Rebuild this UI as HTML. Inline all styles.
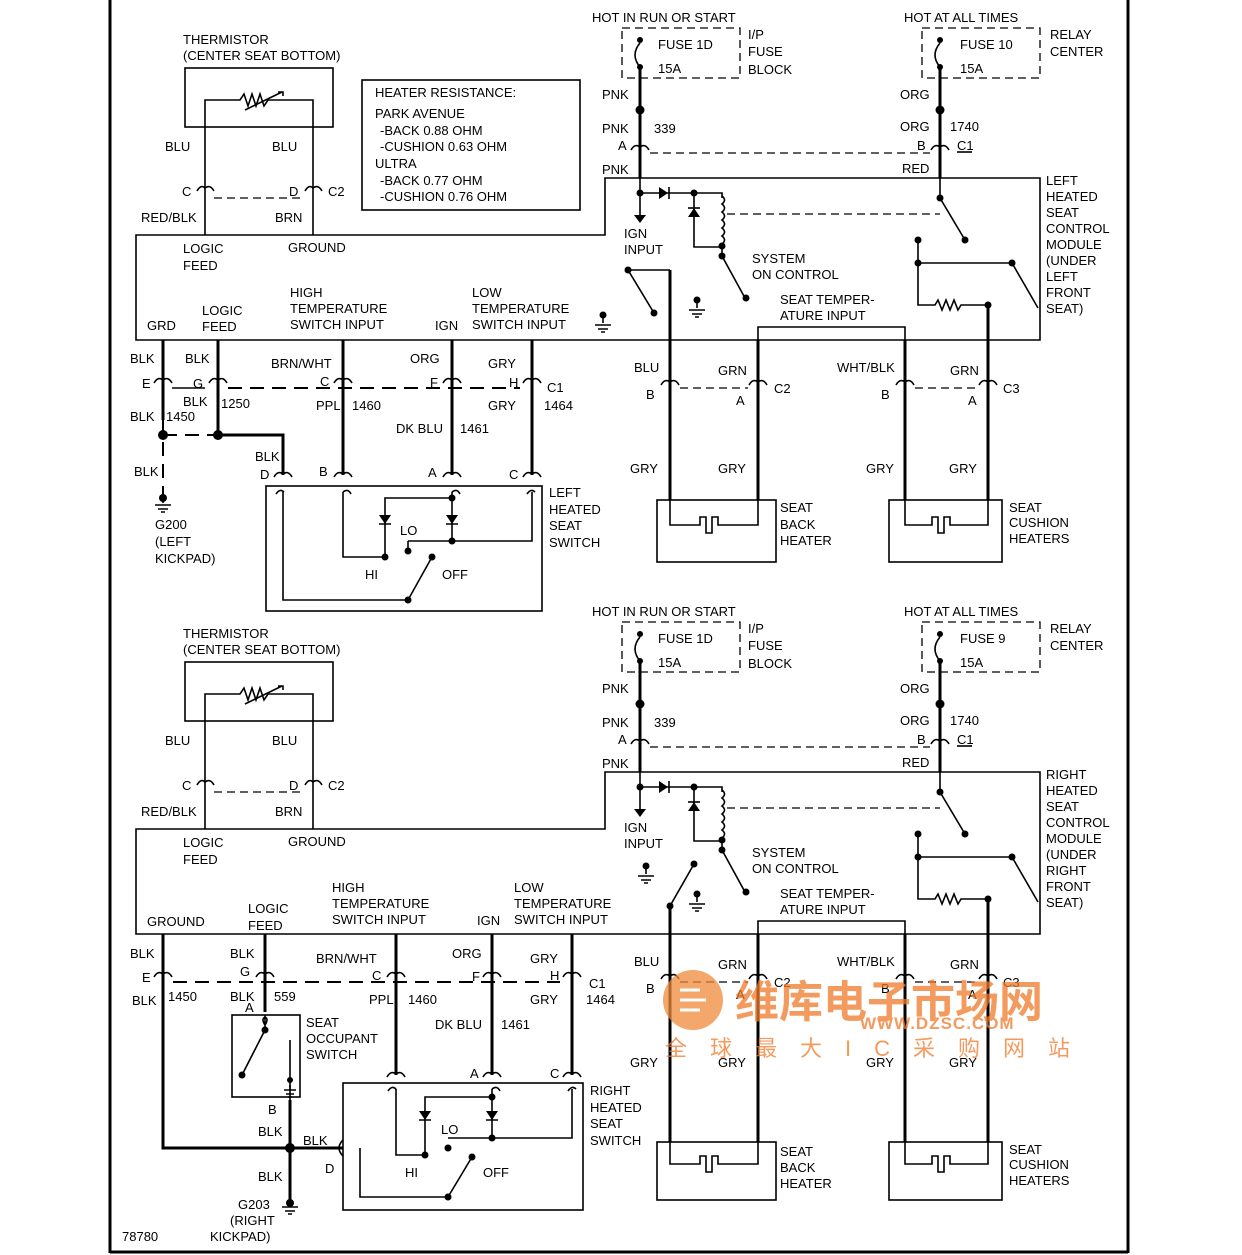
<!DOCTYPE html>
<html><head><meta charset="utf-8"><style>
html,body{margin:0;padding:0;background:#fff}
svg{display:block}
text{font-family:"Liberation Sans","Noto Sans CJK SC",sans-serif;font-size:13px;fill:#000}
.w{stroke:#000;stroke-width:3;fill:none}
.t{stroke:#000;stroke-width:1.6;fill:none}
.d{stroke:#000;stroke-width:2;fill:none;stroke-dasharray:14 8}
.dt{stroke:#000;stroke-width:1.3;fill:none;stroke-dasharray:8 5}
.dot{fill:#000}
</style></head><body>
<svg width="1242" height="1255" viewBox="0 0 1242 1255" xmlns="http://www.w3.org/2000/svg">
<rect x="0" y="0" width="1242" height="1255" fill="#fff"/>
<line x1="110" y1="0" x2="110" y2="1253" stroke="#000" stroke-width="3"/>
<line x1="1128" y1="0" x2="1128" y2="1253" stroke="#000" stroke-width="3"/>
<line x1="110" y1="1252" x2="1128" y2="1252" stroke="#000" stroke-width="3"/>

<g id="top">
<text x="183" y="44">THERMISTOR</text><text x="183" y="60">(CENTER SEAT BOTTOM)</text>
<rect x="185" y="68" width="148" height="59" class="t"/>
<path class="t" d="M205 235 V100 H240 l4 -6 4 12 4 -12 4 12 4 -12 4 12 4 -6 H313 V235"/>
<path class="t" d="M245 110 L282 92 M278 92 h5 v4"/>
<text x="165" y="151">BLU</text><text x="272" y="151">BLU</text>
<text x="182" y="196">C</text><text x="289" y="196">D</text><text x="328" y="196">C2</text>
<path class="t" d="M197 191 q4 -7 8 -3 M205 188 q5 -4 9 3 M305 191 q4 -7 8 -3 M313 188 q5 -4 9 3"/>
<line x1="214" y1="198" x2="305" y2="198" class="dt"/>
<text x="141" y="222">RED/BLK</text><text x="275" y="222">BRN</text>
<text x="183" y="253">LOGIC</text><text x="183" y="270">FEED</text><text x="288" y="252">GROUND</text>
<text x="592" y="22">HOT IN RUN OR START</text>
<rect x="622" y="28" width="118" height="50" class="dt"/>
<path class="t" d="M640 43 Q630 55 640 67"/><circle cx="640" cy="40" r="3" class="dot"/><circle cx="640" cy="67" r="3" class="dot"/>
<text x="658" y="49">FUSE 1D</text><text x="658" y="73">15A</text>
<text x="748" y="39">I/P</text><text x="748" y="56">FUSE</text><text x="748" y="74">BLOCK</text>
<text x="904" y="22">HOT AT ALL TIMES</text>
<rect x="922" y="28" width="118" height="50" class="dt"/>
<path class="t" d="M940 43 Q930 55 940 67"/><circle cx="940" cy="40" r="3" class="dot"/><circle cx="940" cy="67" r="3" class="dot"/>
<text x="960" y="73">15A</text>
<text x="1050" y="39">RELAY</text><text x="1050" y="56">CENTER</text>
<path class="w" d="M640 67 V178 M940 67 V178"/>
<circle cx="640" cy="110" r="4.5" class="dot"/><circle cx="940" cy="110" r="4.5" class="dot"/>
<text x="602" y="99">PNK</text><text x="900" y="99">ORG</text>
<text x="602" y="133">PNK</text><text x="654" y="133">339</text>
<text x="900" y="131">ORG</text><text x="950" y="131">1740</text>
<text x="618" y="150">A</text><text x="917" y="150">B</text><text x="957" y="150">C1</text>
<line x1="957" y1="152" x2="972" y2="152" class="t"/>
<path class="t" d="M631 150 q4 -7 9 -3 M640 147 q5 -4 9 3 M931 150 q4 -7 9 -3 M940 147 q5 -4 9 3"/>
<line x1="650" y1="153" x2="930" y2="153" class="dt"/>
<text x="602" y="174">PNK</text><text x="902" y="173">RED</text>
<path class="t" d="M136 235 H605 V178 H1040 V340 H136 Z"/>
<path class="t" d="M640 178 V215 M640 193 H722 V198"/>
<path d="M634 215 h12 l-6 8z" class="dot"/>
<path d="M659 187 v12 l9 -6z" class="dot"/><line x1="669" y1="187" x2="669" y2="199" class="t"/>
<circle cx="640" cy="193" r="3.5" class="dot"/><circle cx="694" cy="193" r="3.5" class="dot"/>
<path class="t" d="M694 193 V247 H722"/>
<path d="M688 217 h12 l-6 -9z" class="dot"/><line x1="688" y1="208" x2="700" y2="208" class="t"/>
<path class="t" d="M722 196 q5 4 0 8 q5 4 0 8 q5 4 0 8 q5 4 0 8 q5 4 0 8 q5 4 0 8 V256 L745 298"/>
<circle cx="722" cy="246" r="3.5" class="dot"/><circle cx="722" cy="256" r="3.5" class="dot"/><circle cx="746" cy="298" r="3.5" class="dot"/>
<line x1="727" y1="214" x2="940" y2="214" class="dt"/>
<path class="t" d="M940 178 V198 L965 240"/><circle cx="940" cy="198" r="3.5" class="dot"/><circle cx="965" cy="240" r="3.5" class="dot"/>
<path class="t" d="M918 240 V305 H935 l3 -5 4 10 4 -10 4 10 4 -10 4 10 3 -5 H988 M918 263 H1012 L1038 308"/>
<circle cx="918" cy="240" r="3.5" class="dot"/><circle cx="918" cy="263" r="3.5" class="dot"/><circle cx="1012" cy="263" r="3.5" class="dot"/><circle cx="988" cy="305" r="3.5" class="dot"/>
<path class="t" d="M628 270 L654 313 M628 270 H670"/><circle cx="628" cy="270" r="3.5" class="dot"/><circle cx="654" cy="313" r="3.5" class="dot"/>
<path class="t" d="M697 298 v10 M689 310 h16 M692 314 h10 M695 317 h4"/><circle cx="697" cy="300" r="3.5" class="dot"/>
<path class="t" d="M758 340 V327 H905 V340"/>
<text x="624" y="238">IGN</text><text x="624" y="254">INPUT</text>
<text x="752" y="263">SYSTEM</text><text x="752" y="279">ON CONTROL</text>
<text x="780" y="304">SEAT TEMPER-</text><text x="780" y="320">ATURE INPUT</text>
<text x="1046" y="185">LEFT</text><text x="1046" y="201">HEATED</text><text x="1046" y="217">SEAT</text><text x="1046" y="233">CONTROL</text><text x="1046" y="249">MODULE</text><text x="1046" y="265">(UNDER</text><text x="1046" y="281">LEFT</text><text x="1046" y="297">FRONT</text><text x="1046" y="313">SEAT)</text>
<path class="w" d="M670 270 V500 M758 340 V500 M905 340 V500 M988 305 V500"/>
<path class="t" d="M661 385 q4 -7 9 -3 M670 382 q5 -4 9 3 M749 385 q4 -7 9 -3 M758 382 q5 -4 9 3 M896 385 q4 -7 9 -3 M905 382 q5 -4 9 3 M979 385 q4 -7 9 -3 M988 382 q5 -4 9 3"/>
<line x1="680" y1="388" x2="748" y2="388" class="dt"/><line x1="915" y1="388" x2="978" y2="388" class="dt"/>
<text x="634" y="372">BLU</text><text x="718" y="375">GRN</text><text x="774" y="393">C2</text><text x="646" y="399">B</text><text x="736" y="405">A</text>
<text x="837" y="372">WHT/BLK</text><text x="950" y="375">GRN</text><text x="1003" y="393">C3</text><text x="881" y="399">B</text><text x="968" y="405">A</text>
<text x="630" y="473">GRY</text><text x="718" y="473">GRY</text><text x="866" y="473">GRY</text><text x="949" y="473">GRY</text>
<rect x="657" y="500" width="119" height="62" class="t"/>
<path class="t" d="M670 500 V525 H700 V517 H706 V533 H712 V517 H718 V525 H758 V500"/>
<rect x="889" y="500" width="113" height="62" class="t"/>
<path class="t" d="M905 500 V525 H932 V517 H938 V533 H944 V517 H950 V525 H988 V500"/>
<text x="780" y="512">SEAT</text><text x="780" y="529">BACK</text><text x="780" y="545">HEATER</text>
<text x="1009" y="512">SEAT</text><text x="1009" y="527">CUSHION</text><text x="1009" y="543">HEATERS</text>
</g>

<text x="960" y="49">FUSE 10</text>
<rect x="362" y="80" width="218" height="130" class="t"/>
<text x="375" y="97">HEATER RESISTANCE:</text><text x="375" y="118">PARK AVENUE</text>
<text x="380" y="135">-BACK 0.88 OHM</text><text x="380" y="151">-CUSHION 0.63 OHM</text>
<text x="375" y="168">ULTRA</text><text x="380" y="185">-BACK 0.77 OHM</text><text x="380" y="201">-CUSHION 0.76 OHM</text>
<text x="290" y="297">HIGH</text><text x="290" y="313">TEMPERATURE</text><text x="290" y="329">SWITCH INPUT</text>
<text x="202" y="315">LOGIC</text><text x="202" y="331">FEED</text><text x="147" y="330">GRD</text><text x="435" y="330">IGN</text>
<text x="472" y="297">LOW</text><text x="472" y="313">TEMPERATURE</text><text x="472" y="329">SWITCH INPUT</text>
<path class="t" d="M603 313 v10 M595 325 h16 M598 329 h10 M601 332 h4"/><circle cx="603" cy="315" r="3.5" class="dot"/>
<path class="w" d="M163 340 V420 M218 340 V437 M343 340 V475 M452 340 V475 M532 340 V475"/>
<path class="t" d="M154 383 q4 -7 9 -3 M163 380 q5 -4 9 3 M209 383 q4 -7 9 -3 M218 380 q5 -4 9 3 M334 383 q4 -7 9 -3 M343 380 q5 -4 9 3 M443 383 q4 -7 9 -3 M452 380 q5 -4 9 3 M523 383 q4 -7 9 -3 M532 380 q5 -4 9 3"/>
<path class="t" d="M172 388 H205"/><line x1="228" y1="388" x2="520" y2="388" class="d" stroke-width="2.5"/>
<text x="130" y="363">BLK</text><text x="185" y="363">BLK</text><text x="271" y="368">BRN/WHT</text><text x="410" y="363">ORG</text><text x="488" y="368">GRY</text>
<text x="142" y="388">E</text><text x="193" y="388">G</text><text x="320" y="386">C</text><text x="430" y="387">F</text><text x="509" y="387">H</text><text x="547" y="392">C1</text>
<text x="183" y="406">BLK</text><text x="221" y="408">1250</text><text x="316" y="410">PPL</text><text x="352" y="410">1460</text><text x="488" y="410">GRY</text><text x="544" y="410">1464</text>
<text x="130" y="421">BLK</text><text x="166" y="421">1450</text><text x="396" y="433">DK BLU</text><text x="460" y="433">1461</text>
<line x1="163" y1="420" x2="163" y2="495" class="d" stroke-width="3"/>
<line x1="163" y1="435" x2="218" y2="435" class="d" stroke-width="3"/>
<circle cx="163" cy="435" r="5" class="dot"/><circle cx="218" cy="435" r="5" class="dot"/>
<path class="w" d="M218 435 H283 V475"/>
<path class="t" d="M163 495 v8 M155 505 h16 M158 509 h10 M161 512 h4"/><circle cx="163" cy="498" r="4" class="dot"/>
<text x="134" y="476">BLK</text><text x="255" y="461">BLK</text><text x="260" y="479">D</text><text x="319" y="476">B</text><text x="428" y="477">A</text><text x="509" y="479">C</text>
<text x="155" y="529">G200</text><text x="155" y="546">(LEFT</text><text x="155" y="563">KICKPAD)</text>
<path class="t" d="M274 477 q4 -7 9 -3 M283 474 q5 -4 9 3 M334 477 q4 -7 9 -3 M343 474 q5 -4 9 3 M443 477 q4 -7 9 -3 M452 474 q5 -4 9 3 M523 477 q4 -7 9 -3 M532 474 q5 -4 9 3"/>
<rect x="266" y="486" width="276" height="125" class="t"/>
<path class="t" d="M276 494 q4 -6 8 -2 M343 492 q5 -4 8 2 M452 492 q5 -4 8 2 M527 494 q4 -6 8 -2"/>
<path class="t" d="M283 492 V600 H408 L432 557 M343 492 V557 H385 V498 H452 V492 M452 498 V541 H532 V492 M408 541 H452 M385 498 V557"/>
<path class="t" d="M408 541 V548"/>
<path d="M379 515 h12 l-6 9z M446 515 h12 l-6 9z" class="dot"/><path class="t" d="M379 524 h12 M446 524 h12"/>
<circle cx="452" cy="498" r="3.5" class="dot"/><circle cx="452" cy="541" r="3.5" class="dot"/><circle cx="385" cy="557" r="3.5" class="dot"/><circle cx="408" cy="551" r="3.5" class="dot"/><circle cx="432" cy="557" r="3.5" class="dot"/><circle cx="408" cy="600" r="3.5" class="dot"/>
<text x="400" y="535">LO</text><text x="365" y="579">HI</text><text x="442" y="579">OFF</text>
<text x="549" y="497">LEFT</text><text x="549" y="514">HEATED</text><text x="549" y="530">SEAT</text><text x="549" y="547">SWITCH</text>

<g transform="translate(0,594)">
<text x="183" y="44">THERMISTOR</text><text x="183" y="60">(CENTER SEAT BOTTOM)</text>
<rect x="185" y="68" width="148" height="59" class="t"/>
<path class="t" d="M205 235 V100 H240 l4 -6 4 12 4 -12 4 12 4 -12 4 12 4 -6 H313 V235"/>
<path class="t" d="M245 110 L282 92 M278 92 h5 v4"/>
<text x="165" y="151">BLU</text><text x="272" y="151">BLU</text>
<text x="182" y="196">C</text><text x="289" y="196">D</text><text x="328" y="196">C2</text>
<path class="t" d="M197 191 q4 -7 8 -3 M205 188 q5 -4 9 3 M305 191 q4 -7 8 -3 M313 188 q5 -4 9 3"/>
<line x1="214" y1="198" x2="305" y2="198" class="dt"/>
<text x="141" y="222">RED/BLK</text><text x="275" y="222">BRN</text>
<text x="183" y="253">LOGIC</text><text x="183" y="270">FEED</text><text x="288" y="252">GROUND</text>
<text x="592" y="22">HOT IN RUN OR START</text>
<rect x="622" y="28" width="118" height="50" class="dt"/>
<path class="t" d="M640 43 Q630 55 640 67"/><circle cx="640" cy="40" r="3" class="dot"/><circle cx="640" cy="67" r="3" class="dot"/>
<text x="658" y="49">FUSE 1D</text><text x="658" y="73">15A</text>
<text x="748" y="39">I/P</text><text x="748" y="56">FUSE</text><text x="748" y="74">BLOCK</text>
<text x="904" y="22">HOT AT ALL TIMES</text>
<rect x="922" y="28" width="118" height="50" class="dt"/>
<path class="t" d="M940 43 Q930 55 940 67"/><circle cx="940" cy="40" r="3" class="dot"/><circle cx="940" cy="67" r="3" class="dot"/>
<text x="960" y="49">FUSE 9</text><text x="960" y="73">15A</text>
<text x="1050" y="39">RELAY</text><text x="1050" y="56">CENTER</text>
<path class="w" d="M640 67 V178 M940 67 V178"/>
<circle cx="640" cy="110" r="4.5" class="dot"/><circle cx="940" cy="110" r="4.5" class="dot"/>
<text x="602" y="99">PNK</text><text x="900" y="99">ORG</text>
<text x="602" y="133">PNK</text><text x="654" y="133">339</text>
<text x="900" y="131">ORG</text><text x="950" y="131">1740</text>
<text x="618" y="150">A</text><text x="917" y="150">B</text><text x="957" y="150">C1</text>
<line x1="957" y1="152" x2="972" y2="152" class="t"/>
<path class="t" d="M631 150 q4 -7 9 -3 M640 147 q5 -4 9 3 M931 150 q4 -7 9 -3 M940 147 q5 -4 9 3"/>
<line x1="650" y1="153" x2="930" y2="153" class="dt"/>
<text x="602" y="174">PNK</text><text x="902" y="173">RED</text>
<path class="t" d="M136 235 H605 V178 H1040 V340 H136 Z"/>
<path class="t" d="M640 178 V215 M640 193 H722 V198"/>
<path d="M634 215 h12 l-6 8z" class="dot"/>
<path d="M659 187 v12 l9 -6z" class="dot"/><line x1="669" y1="187" x2="669" y2="199" class="t"/>
<circle cx="640" cy="193" r="3.5" class="dot"/><circle cx="694" cy="193" r="3.5" class="dot"/>
<path class="t" d="M694 193 V247 H722"/>
<path d="M688 217 h12 l-6 -9z" class="dot"/><line x1="688" y1="208" x2="700" y2="208" class="t"/>
<path class="t" d="M722 196 q5 4 0 8 q5 4 0 8 q5 4 0 8 q5 4 0 8 q5 4 0 8 q5 4 0 8 V256 L745 298"/>
<circle cx="722" cy="246" r="3.5" class="dot"/><circle cx="722" cy="256" r="3.5" class="dot"/><circle cx="746" cy="298" r="3.5" class="dot"/>
<line x1="727" y1="214" x2="940" y2="214" class="dt"/>
<path class="t" d="M940 178 V198 L965 240"/><circle cx="940" cy="198" r="3.5" class="dot"/><circle cx="965" cy="240" r="3.5" class="dot"/>
<path class="t" d="M918 240 V305 H935 l3 -5 4 10 4 -10 4 10 4 -10 4 10 3 -5 H988 M918 263 H1012 L1038 308"/>
<circle cx="918" cy="240" r="3.5" class="dot"/><circle cx="918" cy="263" r="3.5" class="dot"/><circle cx="1012" cy="263" r="3.5" class="dot"/><circle cx="988" cy="305" r="3.5" class="dot"/>
<path class="t" d="M670 312 L694 270"/><circle cx="670" cy="312" r="3.5" class="dot"/><circle cx="694" cy="270" r="3.5" class="dot"/>
<path class="t" d="M697 298 v10 M689 310 h16 M692 314 h10 M695 317 h4"/><circle cx="697" cy="300" r="3.5" class="dot"/>
<path class="t" d="M646 270 v10 M638 282 h16 M641 286 h10 M644 289 h4"/><circle cx="646" cy="272" r="3.5" class="dot"/>
<path class="t" d="M758 340 V327 H905 V340"/>
<text x="624" y="238">IGN</text><text x="624" y="254">INPUT</text>
<text x="752" y="263">SYSTEM</text><text x="752" y="279">ON CONTROL</text>
<text x="780" y="304">SEAT TEMPER-</text><text x="780" y="320">ATURE INPUT</text>
<text x="1046" y="185">RIGHT</text><text x="1046" y="201">HEATED</text><text x="1046" y="217">SEAT</text><text x="1046" y="233">CONTROL</text><text x="1046" y="249">MODULE</text><text x="1046" y="265">(UNDER</text><text x="1046" y="281">RIGHT</text><text x="1046" y="297">FRONT</text><text x="1046" y="313">SEAT)</text>
<path class="w" d="M670 312 V548 M758 340 V548 M905 340 V548 M988 305 V548"/>
<path class="t" d="M661 385 q4 -7 9 -3 M670 382 q5 -4 9 3 M749 385 q4 -7 9 -3 M758 382 q5 -4 9 3 M896 385 q4 -7 9 -3 M905 382 q5 -4 9 3 M979 385 q4 -7 9 -3 M988 382 q5 -4 9 3"/>
<line x1="680" y1="388" x2="748" y2="388" class="dt"/><line x1="915" y1="388" x2="978" y2="388" class="dt"/>
<text x="634" y="372">BLU</text><text x="718" y="375">GRN</text><text x="774" y="393">C2</text><text x="646" y="399">B</text><text x="736" y="405">A</text>
<text x="837" y="372">WHT/BLK</text><text x="950" y="375">GRN</text><text x="1003" y="393">C3</text><text x="881" y="399">B</text><text x="968" y="405">A</text>
<text x="630" y="473">GRY</text><text x="718" y="473">GRY</text><text x="866" y="473">GRY</text><text x="949" y="473">GRY</text>
<rect x="657" y="548" width="119" height="58" class="t"/>
<path class="t" d="M670 548 V570 H700 V562 H706 V578 H712 V562 H718 V570 H758 V548"/>
<rect x="889" y="548" width="113" height="58" class="t"/>
<path class="t" d="M905 548 V570 H932 V562 H938 V578 H944 V562 H950 V570 H988 V548"/>
<text x="780" y="562">SEAT</text><text x="780" y="578">BACK</text><text x="780" y="594">HEATER</text>
<text x="1009" y="560">SEAT</text><text x="1009" y="575">CUSHION</text><text x="1009" y="591">HEATERS</text>
</g>

<text x="332" y="892">HIGH</text><text x="332" y="908">TEMPERATURE</text><text x="332" y="924">SWITCH INPUT</text>
<text x="248" y="913">LOGIC</text><text x="248" y="930">FEED</text><text x="147" y="926">GROUND</text><text x="477" y="925">IGN</text>
<text x="514" y="892">LOW</text><text x="514" y="908">TEMPERATURE</text><text x="514" y="924">SWITCH INPUT</text>
<path class="w" d="M163 934 V1148 H290 M265 934 V1012 M396 934 V1075 M492 934 V1075 M572 934 V1075"/>
<path class="t" d="M154 977 q4 -7 9 -3 M163 974 q5 -4 9 3 M256 977 q4 -7 9 -3 M265 974 q5 -4 9 3 M387 977 q4 -7 9 -3 M396 974 q5 -4 9 3 M483 977 q4 -7 9 -3 M492 974 q5 -4 9 3 M563 977 q4 -7 9 -3 M572 974 q5 -4 9 3"/>
<line x1="173" y1="982" x2="560" y2="982" class="d" stroke-width="2"/>
<text x="130" y="958">BLK</text><text x="230" y="958">BLK</text><text x="316" y="963">BRN/WHT</text><text x="452" y="958">ORG</text><text x="530" y="963">GRY</text>
<text x="142" y="982">E</text><text x="240" y="976">G</text><text x="372" y="980">C</text><text x="472" y="981">F</text><text x="550" y="980">H</text><text x="589" y="988">C1</text>
<text x="132" y="1005">BLK</text><text x="168" y="1001">1450</text><text x="230" y="1001">BLK</text><text x="274" y="1001">559</text><text x="369" y="1004">PPL</text><text x="408" y="1004">1460</text><text x="530" y="1004">GRY</text><text x="586" y="1004">1464</text>
<text x="435" y="1029">DK BLU</text><text x="501" y="1029">1461</text>
<rect x="232" y="1015" width="68" height="82" class="t"/>
<path class="t" d="M265 1015 V1030 L242 1075 M290 1040 V1100 M265 1025 q-4 -6 0 -8 q4 2 0 8"/>
<circle cx="265" cy="1030" r="3.5" class="dot"/><circle cx="242" cy="1075" r="3.5" class="dot"/>
<path class="t" d="M284 1090 h12 M286 1094 h8 M288 1097 h4 M290 1085 v5"/><circle cx="290" cy="1080" r="3" class="dot"/>
<path class="w" d="M290 1100 V1205"/>
<circle cx="290" cy="1148" r="5" class="dot"/>
<path class="t" d="M282 1207 h16 M285 1211 h10 M288 1214 h4"/><circle cx="290" cy="1203" r="4" class="dot"/>
<text x="245" y="1012">A</text><text x="268" y="1114">B</text><text x="258" y="1136">BLK</text><text x="258" y="1181">BLK</text><text x="303" y="1145">BLK</text><text x="325" y="1173">D</text>
<path class="w" d="M290 1148 H343"/>
<path class="t" d="M343 1140 q-8 8 0 16"/>
<text x="306" y="1027">SEAT</text><text x="306" y="1043">OCCUPANT</text><text x="306" y="1059">SWITCH</text>
<text x="238" y="1209">G203</text><text x="230" y="1225">(RIGHT</text><text x="210" y="1241">KICKPAD)</text>
<text x="122" y="1241">78780</text>
<text x="470" y="1078">A</text><text x="550" y="1078">C</text>
<path class="t" d="M387 1077 q4 -7 9 -3 M396 1074 q5 -4 9 3 M483 1077 q4 -7 9 -3 M492 1074 q5 -4 9 3 M563 1077 q4 -7 9 -3 M572 1074 q5 -4 9 3"/>
<rect x="343" y="1083" width="240" height="127" class="t"/>
<path class="t" d="M388 1091 q4 -6 8 -2 M492 1089 q5 -4 8 2 M568 1091 q4 -6 8 -2"/>
<path class="t" d="M360 1148 V1197 H448 L472 1157 M396 1089 V1155 H425 V1097 H492 V1089 M492 1097 V1138 H572 V1089 M448 1138 H492"/>
<path d="M419 1111 h12 l-6 9z M486 1111 h12 l-6 9z" class="dot"/><path class="t" d="M419 1120 h12 M486 1120 h12"/>
<circle cx="492" cy="1097" r="3.5" class="dot"/><circle cx="492" cy="1138" r="3.5" class="dot"/><circle cx="425" cy="1155" r="3.5" class="dot"/><circle cx="448" cy="1148" r="3.5" class="dot"/><circle cx="472" cy="1157" r="3.5" class="dot"/><circle cx="448" cy="1197" r="3.5" class="dot"/>
<text x="441" y="1134">LO</text><text x="405" y="1177">HI</text><text x="483" y="1177">OFF</text>
<text x="590" y="1095">RIGHT</text><text x="590" y="1112">HEATED</text><text x="590" y="1128">SEAT</text><text x="590" y="1145">SWITCH</text>

<g opacity="0.75">
<circle cx="693" cy="1000" r="30" fill="#f08a3a"/>
<path d="M680 990 h20 M680 1000 h26 M680 1010 h20" stroke="#fff" stroke-width="3"/>
<text x="735" y="1017" style="font-size:44px;fill:#f07a2a;font-weight:bold">维库电子市场网</text>
<text x="860" y="1029" style="font-size:17px;fill:#f07a2a;font-weight:bold;letter-spacing:1px">WWW.DZSC.COM</text>
<text x="665" y="1056" style="font-size:22px;fill:#f07a2a;letter-spacing:23px">全球最大IC采购网站</text>
</g>
</svg>
</body></html>
